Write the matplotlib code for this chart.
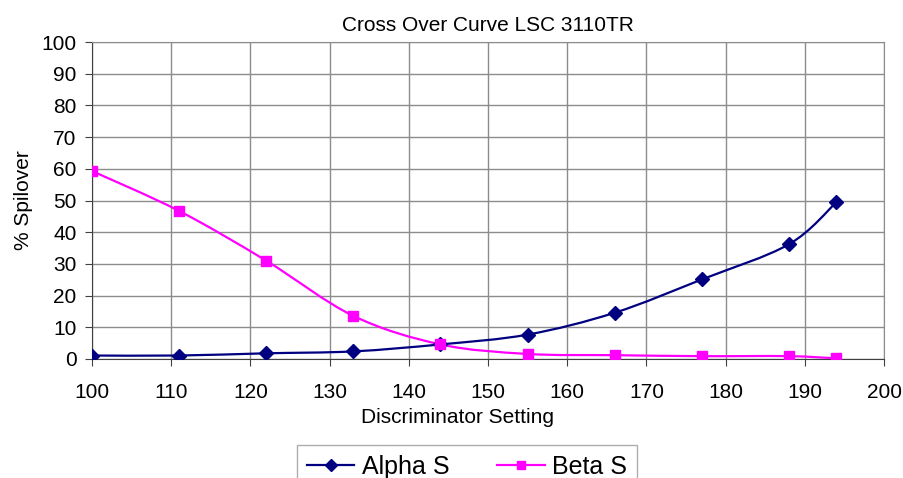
import numpy as np
import matplotlib
matplotlib.use('Agg')
import matplotlib.pyplot as plt
from matplotlib.path import Path
from matplotlib.patches import PathPatch
from matplotlib.lines import Line2D

plt.rcParams['font.family'] = ['Liberation Sans', 'DejaVu Sans']

# data
setting = [100, 111, 122, 133, 144, 155, 166, 177, 188, 194]
alpha_s = [1.1, 1.1, 1.8, 2.4, 4.6, 7.7, 14.6, 25.1, 36.2, 49.5]
beta_s = [59.3, 46.7, 31.0, 13.6, 4.6, 1.6, 1.2, 0.9, 0.9, 0.2]

x_ticks = [100, 110, 120, 130, 140, 150, 160, 170, 180, 190, 200]
y_ticks = [0, 10, 20, 30, 40, 50, 60, 70, 80, 90, 100]

navy = '#000080'
magenta = '#FF00FF'


def smooth_path(x, y):
    # Excel style smoothed line (bezier through the points)
    pts = np.column_stack([x, y]).astype(float)
    n = len(pts)
    verts = [pts[0]]
    codes = [Path.MOVETO]
    for i in range(n - 1):
        p0 = pts[i - 1] if i > 0 else pts[i]
        p1 = pts[i]
        p2 = pts[i + 1]
        p3 = pts[i + 2] if i + 2 < n else pts[i + 1]
        verts += [p1 + (p2 - p0) / 6, p2 - (p3 - p1) / 6, p2]
        codes += [Path.CURVE4] * 3
    return Path(verts, codes)


fig = plt.figure(figsize=(9.04, 4.78), dpi=100)
ax = fig.add_axes([92 / 904, 1 - 359 / 478, 792 / 904, 317 / 478])

for xs, ys, col in [(setting, alpha_s, navy), (setting, beta_s, magenta)]:
    ax.add_patch(PathPatch(smooth_path(xs, ys), fill=False, edgecolor=col,
                           lw=1.6, zorder=3))
ax.plot(setting, alpha_s, ls='none', marker='D', ms=7.5, color=navy, zorder=4)
ax.plot(setting, beta_s, ls='none', marker='s', ms=7, color=magenta, zorder=4)

ax.set_xlim(100, 200)
ax.set_ylim(0, 100)
ax.set_xticks(x_ticks)
ax.set_yticks(y_ticks)
ax.grid(True, color='#8c8c8c', lw=1.0)
ax.set_axisbelow(True)
for s in ['top', 'right']:
    ax.spines[s].set_color('#8c8c8c')
for s in ['left', 'bottom']:
    ax.spines[s].set_color('#404040')
ax.tick_params(direction='out', length=5, color='#404040', labelsize=15)
ax.tick_params(axis='x', pad=12)
ax.tick_params(axis='y', pad=6)

ax.set_title('Cross Over Curve LSC 3110TR', fontsize=15, pad=8)
ax.set_xlabel('Discriminator Setting', fontsize=15, labelpad=0)
ax.xaxis.set_label_coords(0.462, -0.155)
ax.set_ylabel('% Spilover', fontsize=15, labelpad=6)

handles = [Line2D([], [], color=navy, marker='D', ms=6, lw=1.6),
           Line2D([], [], color=magenta, marker='s', ms=6, lw=1.6)]
leg = fig.legend(handles, ['Alpha S', 'Beta S'], loc='upper left',
                 bbox_to_anchor=(297 / 904, 1 - 445 / 478), ncol=2,
                 fontsize=18, frameon=True, fancybox=False,
                 handlelength=1.9, handletextpad=0.3, columnspacing=1.9,
                 borderpad=0.4, borderaxespad=0)
leg.get_frame().set_edgecolor('#999999')
leg.get_frame().set_linewidth(1.0)

fig.savefig('out.png', dpi=100)
